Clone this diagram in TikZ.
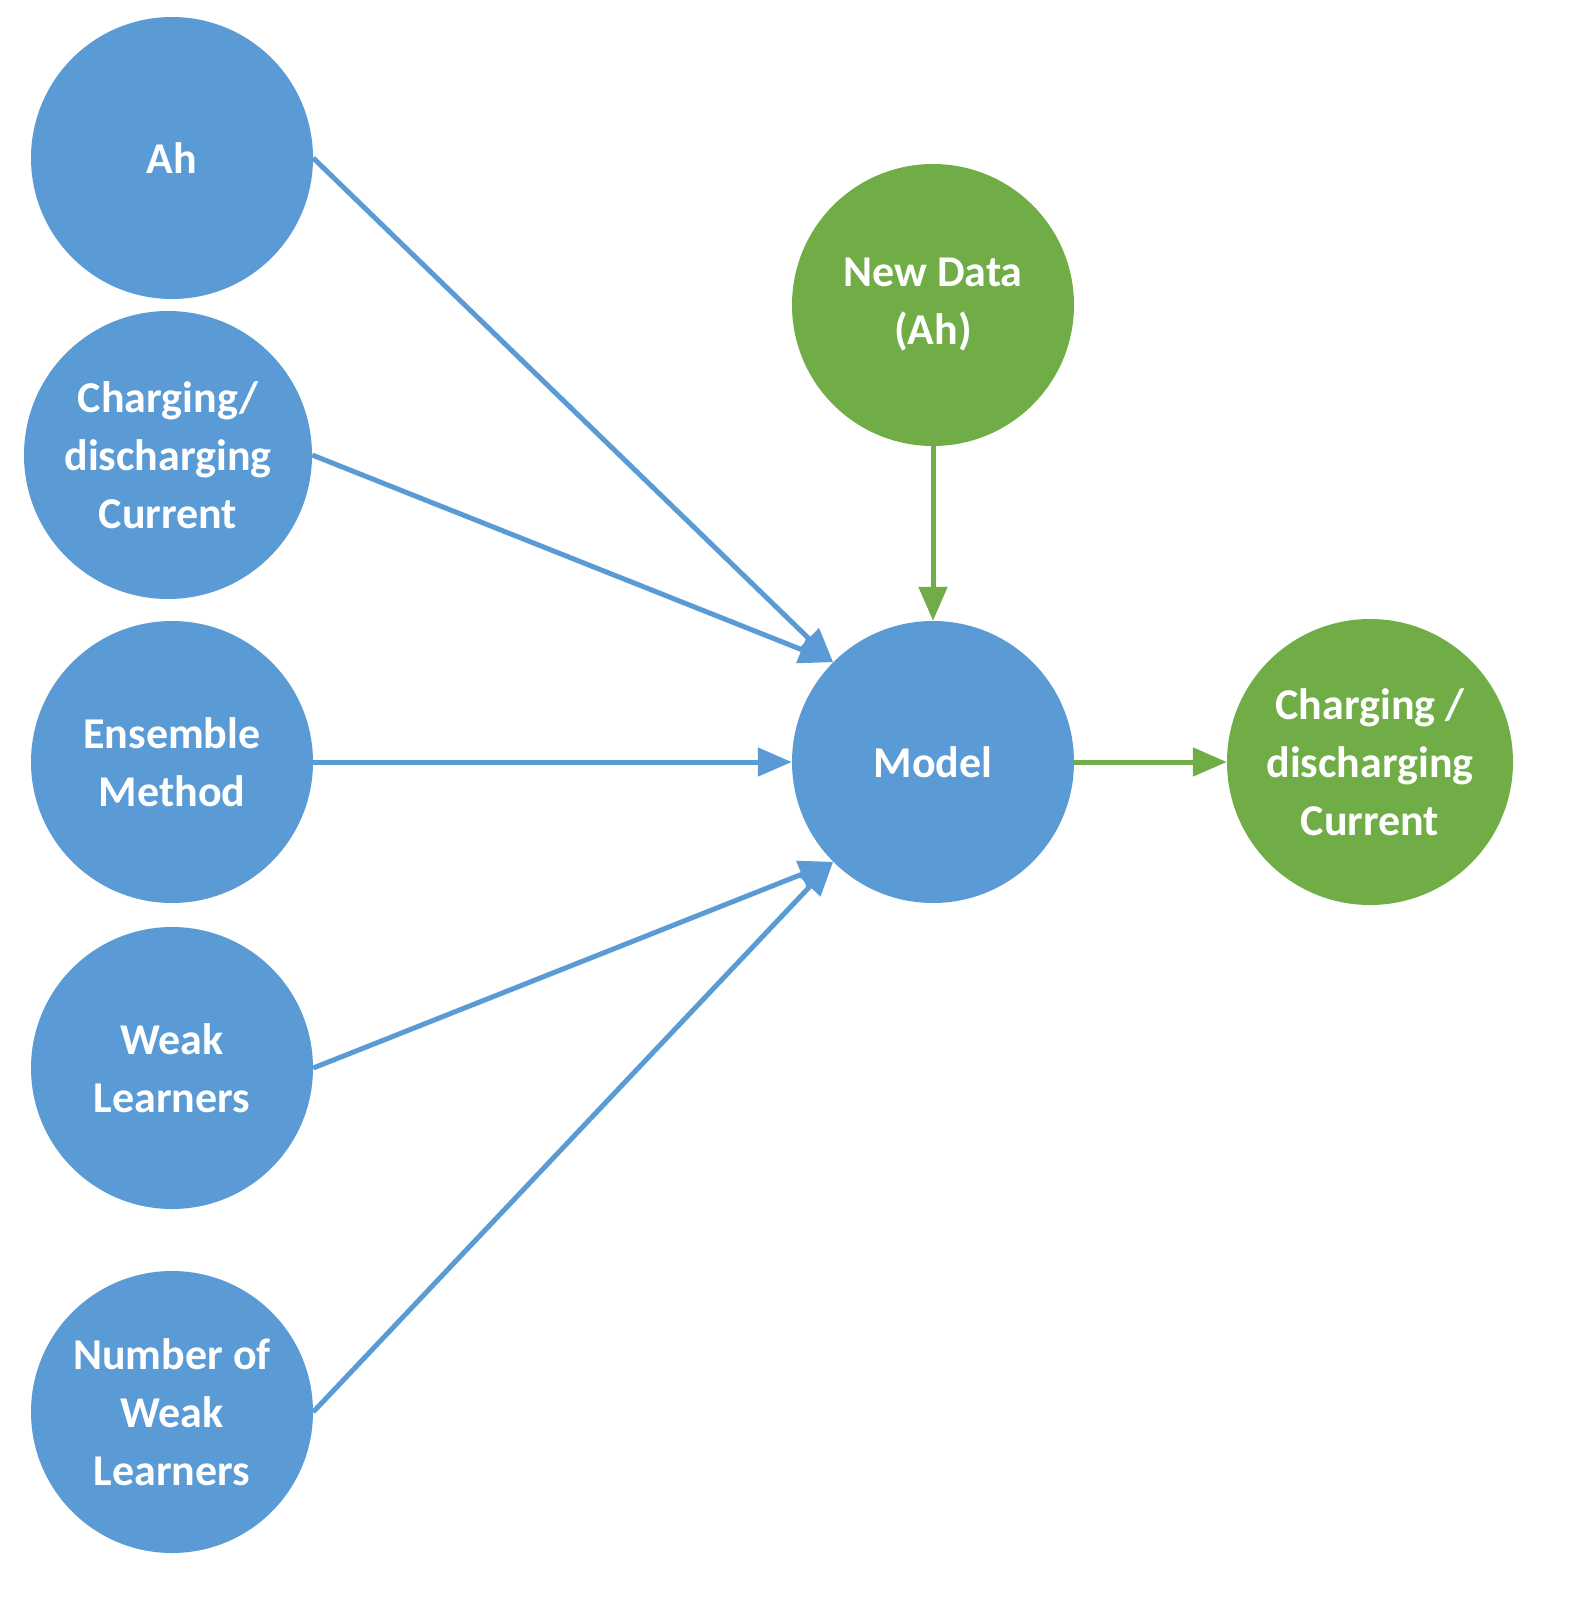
\documentclass[tikz,border=0pt]{standalone}
\usepackage{fontspec}
\setmainfont{Carlito}
\usetikzlibrary{arrows.meta}
\definecolor{cblue}{HTML}{5B9BD5}
\definecolor{cgreen}{HTML}{70AD47}
\begin{document}
\begin{tikzpicture}[x=1pt,y=1pt,
  bc/.style={circle,fill=cblue,minimum size=282pt,inner sep=0pt,text=white,font=\fontsize{44}{58}\selectfont\bfseries,align=center},
  gc/.style={bc,fill=cgreen},
  ba/.style={draw=cblue,line width=5pt,-{Triangle[length=34pt,width=28pt]}},
  ga/.style={ba,draw=cgreen}]
\useasboundingbox (0,0) rectangle (1587,-1623);
\node[bc] (ah) at (172,-158) {Ah};
\node[bc,minimum size=288pt] (cd) at (168,-455) {Charging/\\discharging\\Current};
\node[bc] (en) at (172,-762) {Ensemble\\Method};
\node[bc] (wl) at (172,-1068) {Weak\\Learners};
\node[bc] (nw) at (172,-1412) {Number of\\Weak\\Learners};
\node[gc] (nd) at (933,-305) {New Data\\(Ah)};
\node[bc] (mo) at (933,-762) {Model};
\node[gc,minimum size=286pt] (out) at (1370,-762) {Charging /\\discharging\\Current};
\draw[ba] (ah.east) -- (mo.135);
\draw[ba] (cd.east) -- (mo.135);
\draw[ba] (en.east) -- (mo.west);
\draw[ba] (wl.east) -- (mo.-135);
\draw[ba] (nw.east) -- (mo.-135);
\draw[ga] (nd.south) -- (mo.north);
\draw[ga] (mo.east) -- (out.west);
\end{tikzpicture}
\end{document}
